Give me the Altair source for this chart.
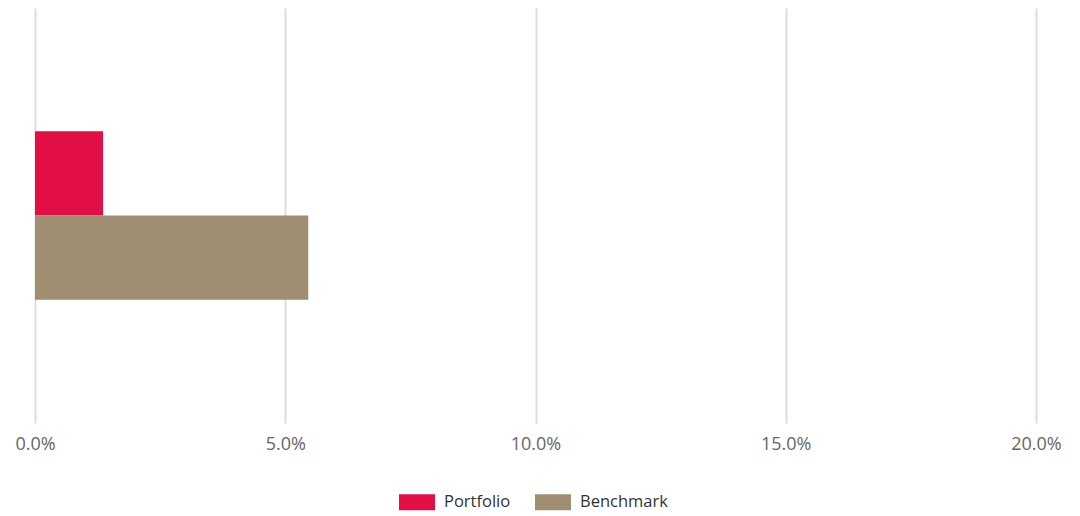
import altair as alt
import pandas as pd

category = ["Allocation", "Allocation"]
series = ["Portfolio", "Benchmark"]
values = [0.0136, 0.0546]
colors = ["#E20F47", "#A08E71"]
x_ticks = [0.0, 0.05, 0.10, 0.15, 0.20]

df = pd.DataFrame({"category": category, "series": series, "value": values})

chart = alt.Chart(df).mark_bar().encode(
    x=alt.X("value:Q",
            scale=alt.Scale(domain=[0, 0.20], nice=False),
            axis=alt.Axis(values=x_ticks, format=".1%", title=None,
                          grid=True, gridColor="#DDDDDD", gridWidth=2,
                          domain=False, ticks=False, labelPadding=12,
                          labelAlign="center", labelFlush=False,
                          labelFontSize=18, labelColor="#666666",
                          labelFont="Open Sans")),
    y=alt.Y("category:N",
            scale=alt.Scale(paddingInner=0, paddingOuter=0.73),
            axis=None),
    yOffset=alt.YOffset("series:N", sort=series,
                        scale=alt.Scale(paddingInner=0, paddingOuter=0)),
    color=alt.Color("series:N", sort=series,
                    scale=alt.Scale(domain=series, range=colors),
                    legend=alt.Legend(title=None, orient="none", direction="horizontal",
                                      legendX=364, legendY=476,
                                      symbolType="M-1,-0.45H1V0.45H-1Z",
                                      symbolSize=1296, symbolStrokeWidth=0,
                                      labelFontSize=16.5, labelColor="#333333",
                                      labelFont="Open Sans", labelOffset=9,
                                      columnPadding=24)),
).properties(
    width=1001, height=415,
    padding={"left": 27, "top": 0, "right": 30, "bottom": 91},
    autosize=alt.AutoSizeParams(type="none"),
).configure_view(stroke=None)

chart.save("out.html", embed_options={"renderer": "svg", "actions": False})
